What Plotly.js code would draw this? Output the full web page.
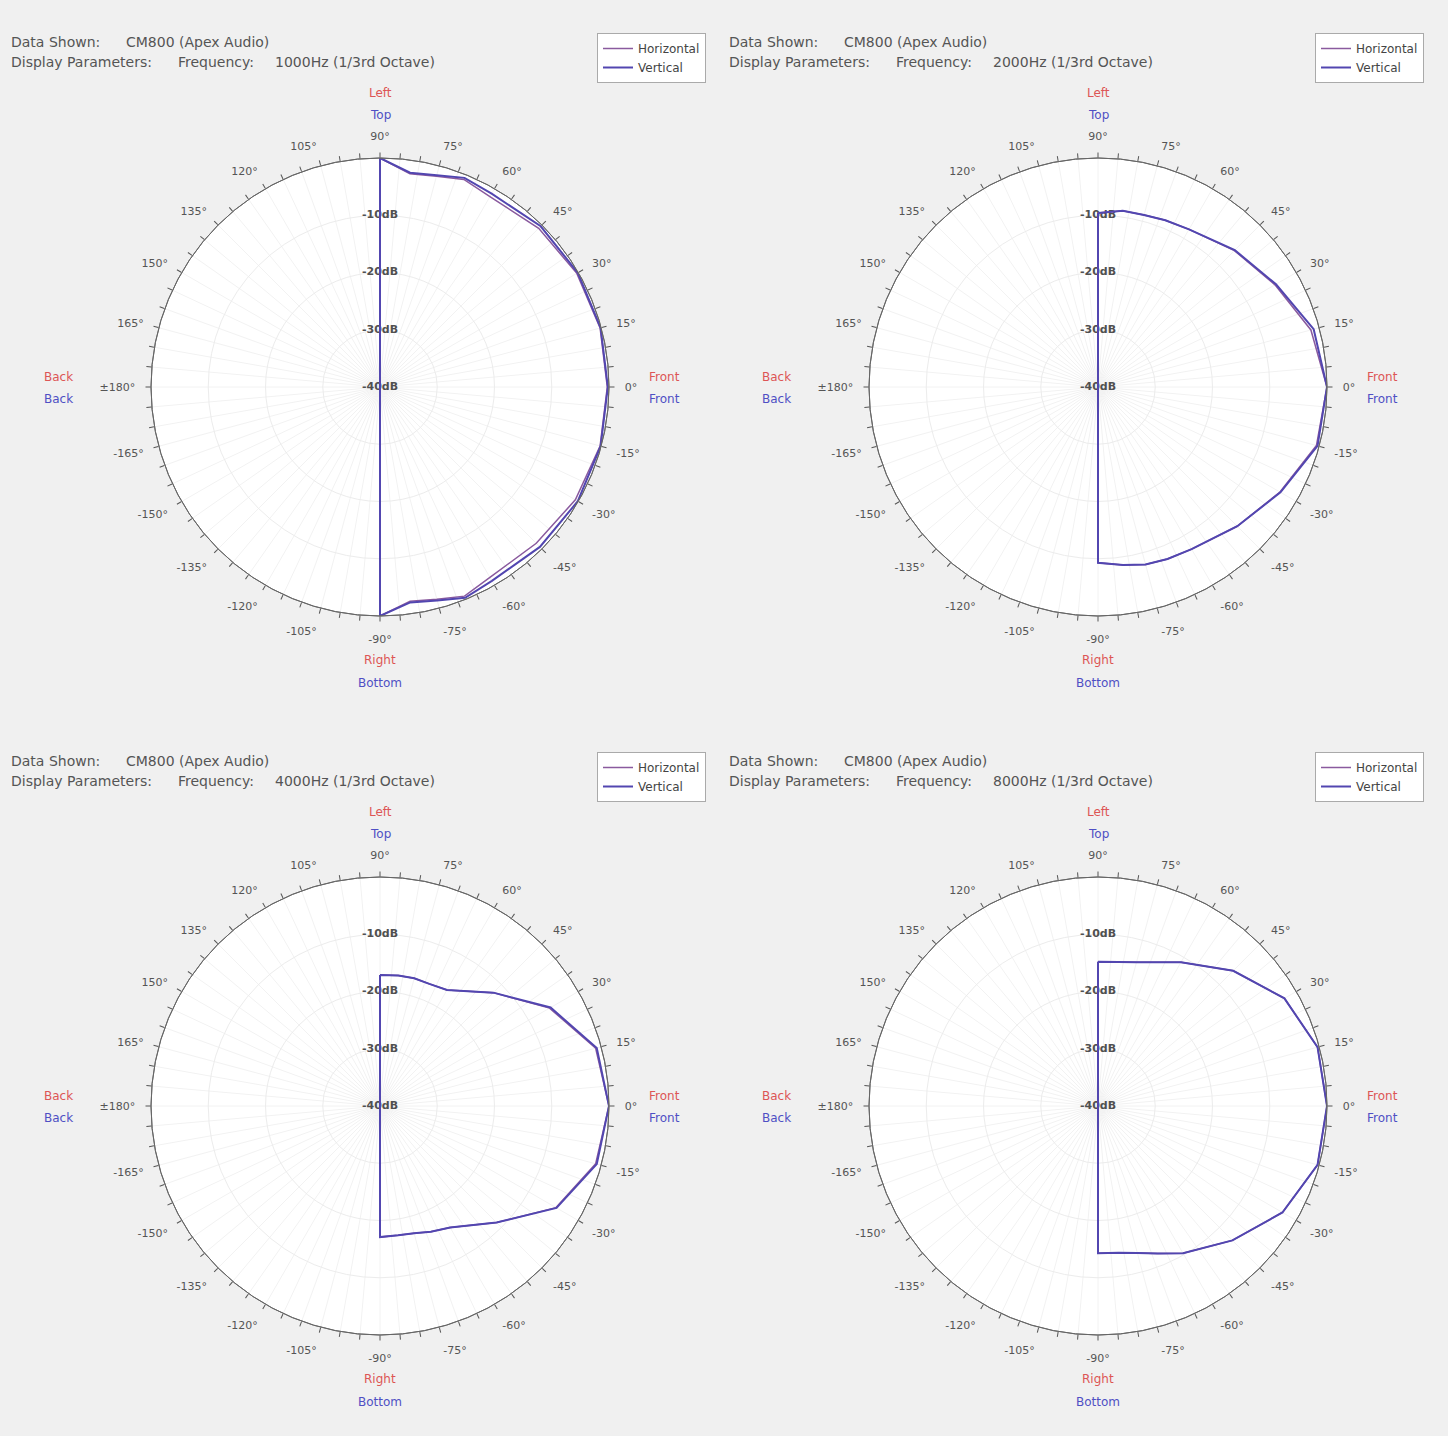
<!DOCTYPE html>
<html><head><meta charset="utf-8">
<script src="https://cdn.plot.ly/plotly-3.0.1.min.js"></script>
<style>html,body{margin:0;padding:0;background:#f0f0f0;}#chart{width:1448px;height:1436px;}</style>
</head><body><div id="chart"></div>
<script>
// ---- data ----
const ANGLES = [90, 82, 75, 68, 60, 45, 30, 15, 0, -15, -30, -45, -60, -68, -75, -82, -90];
const FREQUENCIES = ['1000Hz', '2000Hz', '4000Hz', '8000Hz'];
const DEVICE = 'CM800 (Apex Audio)';
const H_1000 = [0, -2.4, -1.9, -0.9, -1.6, -0.8, -0.3, -0.2, -0.3, -0.2, -0.6, -1.4, -1.6, -0.6, -1.6, -2.2, 0];
const V_1000 = [0, -2.2, -1.7, -0.6, -1.0, -0.3, -0.1, -0.1, -0.2, -0.1, -0.1, -0.5, -0.9, -0.3, -1.4, -2.0, 0];
const H_2000 = [-9.6, -8.9, -8.9, -8.6, -8.2, -6.3, -4.3, -1.5, 0, -0.5, -3.3, -5.6, -7.3, -7.6, -7.9, -8.6, -9.3];
const V_2000 = [-9.6, -8.9, -8.9, -8.6, -8.2, -6.2, -4.1, -1.0, 0, -0.3, -3.2, -5.6, -7.3, -7.6, -7.9, -8.6, -9.3];
const H_4000 = [-17.1, -17.0, -16.9, -17.0, -16.6, -12.0, -5.8, -1.0, 0, -1.0, -4.5, -11.2, -15.5, -16.3, -17.0, -17.2, -17.1];
const V_4000 = [-17.1, -17.0, -16.9, -17.0, -16.6, -12.0, -5.6, -0.8, 0, -0.8, -4.4, -11.2, -15.5, -16.3, -17.0, -17.2, -17.1];
const H_8000 = [-14.8, -14.6, -14.0, -12.9, -11.0, -6.6, -2.4, -0.3, 0, -0.3, -2.8, -6.8, -10.3, -12.2, -13.4, -14.1, -14.3];
const V_8000 = [-14.8, -14.6, -14.0, -12.9, -11.0, -6.6, -2.4, -0.3, 0, -0.3, -2.8, -6.8, -10.3, -12.2, -13.4, -14.1, -14.3];
const RADIAL_TICKS = [-40, -30, -20, -10];
const RADIAL_LABELS = ['-40dB', '-30dB', '-20dB', '-10dB'];
const ANGLE_TICK_LABELS = ['0°','15°','30°','45°','60°','75°','90°','105°','120°','135°','150°','165°','±180°','-165°','-150°','-135°','-120°','-105°','-90°','-75°','-60°','-45°','-30°','-15°'];
const SERIES_NAMES = ['Horizontal', 'Vertical'];

// ---- layout helpers ----
const W = 1448, HGT = 1436, R = 229;
const panels = [
  {cx: 380, cy: 387, ox: 0, oy: 0, h: H_1000, v: V_1000},
  {cx: 1098, cy: 387, ox: 718, oy: 0, h: H_2000, v: V_2000},
  {cx: 380, cy: 1106, ox: 0, oy: 719, h: H_4000, v: V_4000},
  {cx: 1098, cy: 1106, ox: 718, oy: 719, h: H_8000, v: V_8000}
];
const RED = '#dd5555', BLUE = '#4f4fc4';
const H_COLOR = '#8a5a9e', V_COLOR = '#5246b0';
const FONT = 'DejaVu Sans, Verdana, sans-serif';

const tickVals = [], tickText = [];
for (let a = 0; a < 360; a += 5) {
  tickVals.push(a);
  tickText.push(a % 15 === 0 ? ANGLE_TICK_LABELS[a / 15] : '');
}
const closeLoop = arr => arr.concat([arr[0]]);

const data = [];
const layout = {
  width: W, height: HGT,
  margin: {l: 0, r: 0, t: 0, b: 0},
  paper_bgcolor: '#f0f0f0',
  font: {family: FONT, size: 11, color: '#444'},
  annotations: [],
  showlegend: true
};
const px = x => x / W, py = y => 1 - y / HGT;

panels.forEach((p, i) => {
  const key = i === 0 ? 'polar' : 'polar' + (i + 1);
  const rimKey = 'polar' + (i + 5);
  const lkey = i === 0 ? 'legend' : 'legend' + (i + 1);
  const dom = {x: [px(p.cx - R), px(p.cx + R)], y: [py(p.cy + R), py(p.cy - R)]};
  layout[key] = {
    domain: dom,
    bgcolor: '#ffffff',
    angularaxis: {
      direction: 'counterclockwise', rotation: 0,
      tickmode: 'array', tickvals: tickVals, ticktext: tickText,
      ticks: 'outside', ticklen: 13, tickcolor: 'rgba(0,0,0,0)', tickwidth: 1,
      showline: true, linecolor: '#666', linewidth: 1,
      showgrid: true, gridcolor: '#f2f2f2', gridwidth: 1,
      tickfont: {size: 11, color: '#555', family: FONT}
    },
    radialaxis: {
      range: [-40, 0], angle: 90, showline: false, ticks: '',
      showticklabels: false, tickvals: RADIAL_TICKS.slice(1),
      showgrid: true, gridcolor: '#ececec'
    }
  };
  layout[rimKey] = {
    domain: dom,
    bgcolor: 'rgba(0,0,0,0)',
    angularaxis: {
      direction: 'counterclockwise', rotation: 0,
      tickmode: 'array', tickvals: tickVals, showticklabels: false,
      ticks: 'outside', ticklen: 5, tickcolor: '#555', tickwidth: 1,
      showline: true, linecolor: '#666', linewidth: 1, showgrid: false
    },
    radialaxis: {range: [-40, 0], visible: false, showgrid: false}
  };
  layout[lkey] = {
    x: px(p.ox + 597), y: py(p.oy + 33), xanchor: 'left', yanchor: 'top',
    bgcolor: '#ffffff', bordercolor: '#aaaaaa', borderwidth: 1,
    font: {size: 12, color: '#444', family: FONT},
    itemwidth: 30, tracegroupgap: 0
  };
  data.push({
    type: 'scatterpolar', subplot: key, mode: 'text',
    r: RADIAL_TICKS, theta: RADIAL_TICKS.map(() => 90), text: RADIAL_LABELS,
    textfont: {size: 11, color: '#505050', family: FONT, weight: 'bold'},
    showlegend: false, hoverinfo: 'skip'
  });
  data.push({
    type: 'scatterpolar', subplot: key, mode: 'lines', name: SERIES_NAMES[0], legend: lkey,
    r: closeLoop(p.h), theta: closeLoop(ANGLES),
    line: {color: H_COLOR, width: 1.5}
  });
  data.push({
    type: 'scatterpolar', subplot: key, mode: 'lines', name: SERIES_NAMES[1], legend: lkey,
    r: closeLoop(p.v), theta: closeLoop(ANGLES),
    line: {color: V_COLOR, width: 2}
  });
  data.push({
    type: 'scatterpolar', subplot: rimKey, mode: 'lines', r: [], theta: [],
    showlegend: false, hoverinfo: 'skip'
  });
  const ann = (x, y, text, color, anchor, size) => layout.annotations.push({
    xref: 'paper', yref: 'paper', x: px(x), y: py(y), text: text, showarrow: false,
    xanchor: anchor || 'center', yanchor: 'middle',
    font: {size: size || 12, color: color, family: FONT}
  });
  ann(p.ox + 9, p.oy + 42, 'Data Shown:', '#555', 'left', 14);
  ann(p.ox + 124, p.oy + 42, DEVICE, '#555', 'left', 14);
  ann(p.ox + 9, p.oy + 62, 'Display Parameters:', '#555', 'left', 14);
  ann(p.ox + 176, p.oy + 62, 'Frequency:', '#555', 'left', 14);
  ann(p.ox + 273, p.oy + 62, FREQUENCIES[i] + ' (1/3rd Octave)', '#555', 'left', 14);
  ann(p.cx, p.cy - 294, 'Left', RED);
  ann(p.cx, p.cy - 272, 'Top', BLUE);
  ann(p.cx, p.cy + 273, 'Right', RED);
  ann(p.cx, p.cy + 296, 'Bottom', BLUE);
  ann(p.cx - 322, p.cy - 10, 'Back', RED);
  ann(p.cx - 322, p.cy + 12, 'Back', BLUE);
  ann(p.cx + 284, p.cy - 10, 'Front', RED);
  ann(p.cx + 284, p.cy + 12, 'Front', BLUE);
});

Plotly.newPlot('chart', data, layout, {displayModeBar: false, staticPlot: true});
</script>
</body></html>
